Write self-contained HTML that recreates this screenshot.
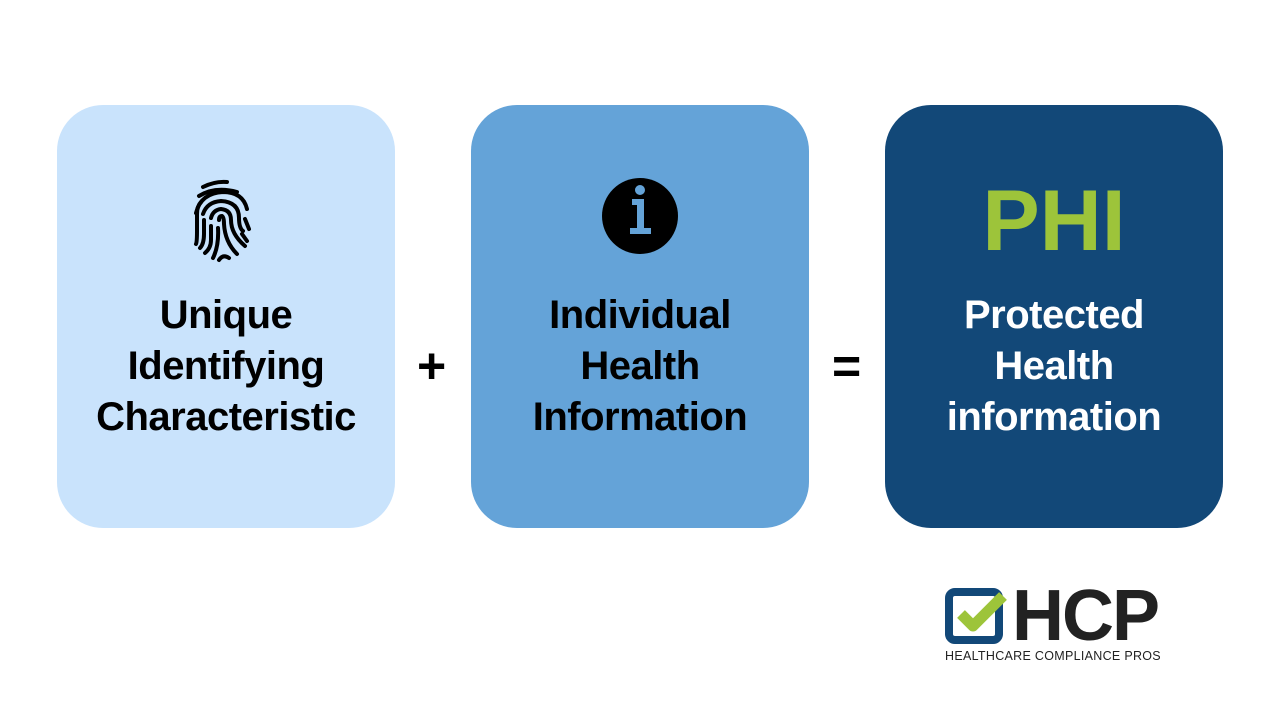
<!DOCTYPE html>
<html><head><meta charset="utf-8"><style>
body{margin:0;width:1280px;height:720px;background:#fff;position:relative;overflow:hidden;font-family:"Liberation Sans",sans-serif}
.box{position:absolute;top:105px;width:338px;height:423px;border-radius:46px}
.t{position:absolute;left:0;width:338px;top:185px;text-align:center;font-weight:bold;font-size:40px;line-height:51px;letter-spacing:-0.5px}
.op{position:absolute;font-weight:bold;font-size:50px}
</style></head><body>
<div class="box" style="left:57px;background:#C9E3FC">
<svg style="position:absolute;left:136px;top:70px" width="66" height="88" viewBox="0 0 66 86" fill="none" stroke="#000" stroke-width="4" stroke-linecap="round">
<path d="M10 11 Q22 5 34 6"/>
<path d="M6 20 Q22 10 44 16"/>
<path d="M3 37 Q8 17 30 16 Q50 16 54 33"/>
<path d="M8 26 Q4 30 4 38 L4 55 Q4 66 3 68"/>
<path d="M10 38 Q14 26 28 25 Q46 26 46 42 Q46 52 50 55"/>
<path d="M11 44 L11 58 Q11 68 7 72"/>
<path d="M18 42 Q20 34 28 33 Q38 34 38 44 Q38 58 52 70"/>
<path d="M18 50 L18 64 Q18 72 12 77"/>
<path d="M26 44 Q26 40 29 40 Q31 41 31 48 Q32 66 44 78"/>
<path d="M25 52 Q26 70 20 82"/>
<path d="M26 84 Q30 78 36 82"/>
<path d="M52 43 L56 53"/><path d="M49 58 L54 65"/>
</svg>
<div class="t">Unique<br>Identifying<br>Characteristic</div></div>
<div class="op" style="left:417px;top:337px">+</div>
<div class="box" style="left:471px;background:#64A3D8">
<svg style="position:absolute;left:131px;top:73px" width="76" height="76" viewBox="0 0 76 76"><circle cx="38" cy="38" r="38" fill="#000"/><circle cx="38" cy="12" r="5" fill="#64A3D8"/><path d="M30 21h12v29h7v6H28v-6h7V27h-5z" fill="#64A3D8"/></svg>
<div class="t">Individual<br>Health<br>Information</div></div>
<div class="op" style="left:832px;top:337px">=</div>
<div class="box" style="left:885px;background:#124878">
<div style="position:absolute;left:0;width:338px;top:73px;text-align:center;font-weight:bold;font-size:86px;color:#9DC43A;line-height:86px">PHI</div>
<div class="t" style="color:#fff">Protected<br>Health<br>information</div></div>
<svg style="position:absolute;left:945px;top:588px" width="66" height="56" viewBox="0 0 66 56"><rect x="4" y="4" width="50" height="48" rx="6" fill="none" stroke="#124878" stroke-width="8"/><path d="M16 26 L28 38 L58 8" fill="none" stroke="#9DC43A" stroke-width="11" stroke-linejoin="round"/></svg>
<div style="position:absolute;left:1012px;top:580px;font-size:72px;font-weight:bold;color:#222;line-height:72px;letter-spacing:-2px">HCP</div>
<div style="position:absolute;left:945px;top:649px;font-size:12.5px;color:#222;letter-spacing:0.3px">HEALTHCARE COMPLIANCE PROS</div>
</body></html>
